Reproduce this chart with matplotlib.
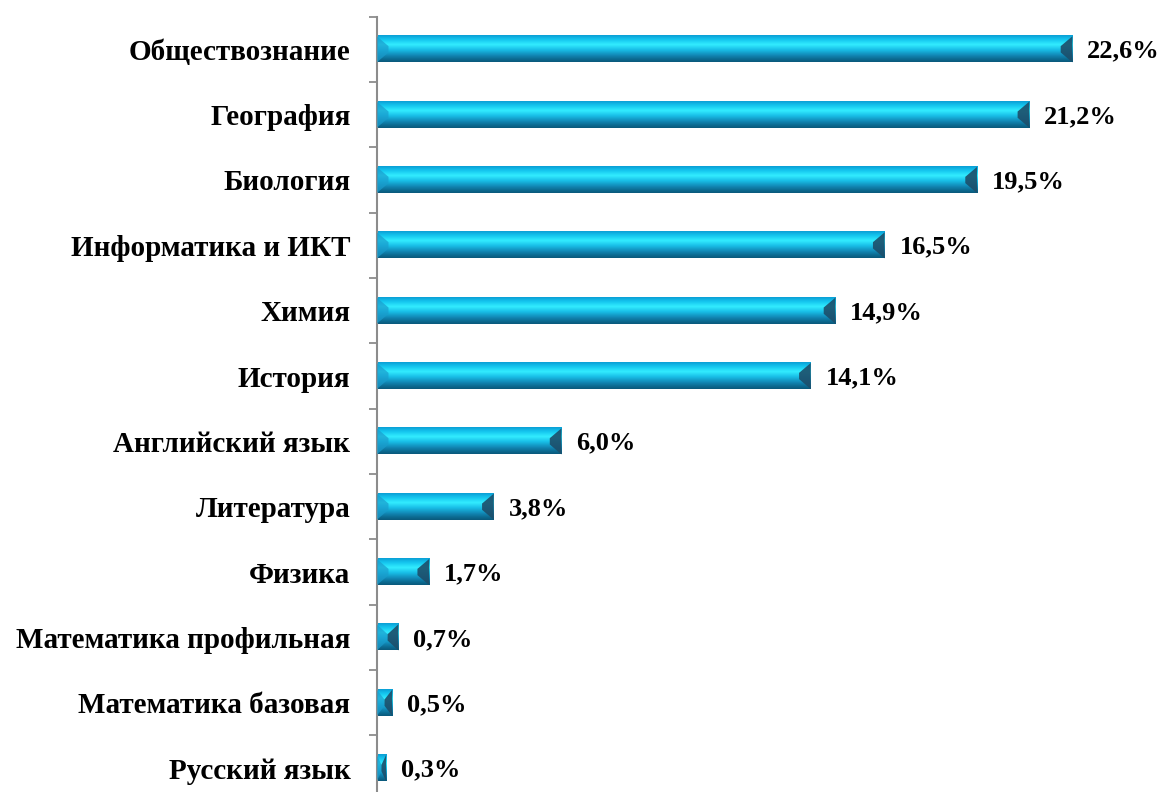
import numpy as np
import matplotlib.pyplot as plt
from matplotlib.colors import LinearSegmentedColormap
from matplotlib.patches import Polygon

plt.rcParams['font.family'] = ['Liberation Serif', 'DejaVu Serif']

# данные
subjects = ['Обществознание', 'География', 'Биология', 'Информатика и ИКТ',
            'Химия', 'История', 'Английский язык', 'Литература', 'Физика',
            'Математика профильная', 'Математика базовая', 'Русский язык']
values = [22.6, 21.2, 19.5, 16.5, 14.9, 14.1, 6.0, 3.8, 1.7, 0.7, 0.5, 0.3]

fig = plt.figure(figsize=(11.63, 7.92), dpi=100)
ax = fig.add_axes([0.324, -0.011, 0.9856 - 0.324, 0.99])

# градиент для объёмных полос (сверху вниз)
grad = LinearSegmentedColormap.from_list('bar', [
    (0.0, '#0b9fd6'), (0.15, '#14c4ee'), (0.35, '#32ecff'),
    (0.55, '#18bde6'), (0.75, '#1289b6'), (0.9, '#0c6a90'), (1.0, '#0a5a7c')])
img = np.linspace(0, 1, 64).reshape(-1, 1)

h = 0.4
for i, v in enumerate(values):
    top, bot = i - h / 2, i + h / 2
    ax.imshow(img, cmap=grad, aspect='auto', extent=(0, v, bot, top),
              interpolation='bilinear', zorder=2)
    bw = min(0.38, v / 2)
    d = h * 0.38
    # левый скос
    ax.add_patch(Polygon([(0, top), (bw, top + d), (bw, bot - d), (0, bot)],
                         closed=True, fc='#1a9ccc', ec='none', alpha=0.7, zorder=3))
    # правый скос
    ax.add_patch(Polygon([(v, top), (v - bw, top + d), (v - bw, bot - d), (v, bot)],
                         closed=True, fc='#1d4e6a', ec='none', alpha=0.9, zorder=3))
    ax.text(v + 0.48, i + 0.03, f'{v:.1f}%'.replace('.', ','), va='center', ha='left',
            fontsize=19, fontweight='bold', color='black')

ax.set_xlim(0, 25)
ax.set_ylim(11.5, -0.5)
ax.set_yticks(range(len(subjects)))
ax.set_yticklabels(subjects, fontsize=21, fontweight='bold')
ax.set_yticks(np.arange(-0.5, len(subjects), 1), minor=True)
ax.tick_params(axis='y', which='major', length=0, pad=19)
ax.tick_params(axis='y', which='minor', length=6, width=1.3, color='#8c8c8c', direction='out')
ax.set_xticks([])
for s in ['top', 'right', 'bottom']:
    ax.spines[s].set_visible(False)
ax.spines['left'].set_color('#8c8c8c')
ax.spines['left'].set_linewidth(1.5)

fig.savefig('out.png', dpi=100)
